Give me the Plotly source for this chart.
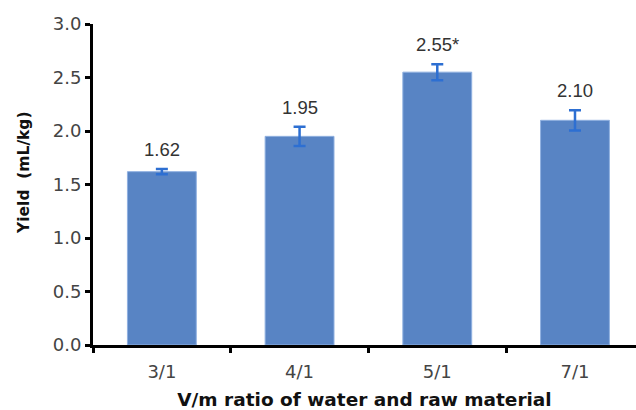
import plotly.graph_objects as go

categories = ["3/1", "4/1", "5/1", "7/1"]
yields = [1.62, 1.95, 2.55, 2.10]
errors = [0.025, 0.09, 0.075, 0.095]
labels = ["1.62", "1.95", "2.55*", "2.10"]

fig = go.Figure()
fig.add_trace(go.Bar(
    x=categories, y=yields, width=0.5,
    marker=dict(color="#5884c4", line=dict(color="#8fb0e0", width=1)),
    error_y=dict(type="data", array=errors, color="#2d6fd2", thickness=2.5, width=6),
    showlegend=False,
))
for c, v, e, t in zip(categories, yields, errors, labels):
    fig.add_annotation(x=c, y=v + e, text=t, showarrow=False, yanchor="bottom", yshift=7,
                       font=dict(family="Liberation Sans, Arial", size=18.5, color="#333333"))

fig.add_annotation(xref="paper", yref="paper", x=-0.127, y=0.536, text="<b>Yield  (mL/kg)</b>",
                   textangle=-90, showarrow=False, xanchor="center", yanchor="middle",
                   font=dict(family="DejaVu Sans", size=15.5, color="#111111"))

fig.update_layout(
    width=636, height=410,
    margin=dict(l=93, r=0, t=24, b=65),
    plot_bgcolor="white", paper_bgcolor="white",
    font=dict(family="DejaVu Sans", size=18, color="#444444"),
    bargap=0.5,
)
fig.update_xaxes(
    range=[-0.5, 3.443],
    showline=True, linecolor="black", linewidth=3,
    ticks="outside", tickson="boundaries", ticklen=5, tickcolor="black", tickwidth=3,
    tickfont=dict(family="DejaVu Sans", size=18, color="#444444"), ticklabelstandoff=8,
    title=dict(text="<b>V/m ratio of water and raw material</b>",
               font=dict(family="DejaVu Sans", size=18.5, color="#111111"), standoff=14),
    automargin=False,
)
fig.update_yaxes(
    range=[0, 3], dtick=0.5, tickformat=".1f",
    showline=True, linecolor="black", linewidth=3, showgrid=False, zeroline=False,
    ticks="outside", ticklen=5, tickcolor="black", tickwidth=3,
    tickfont=dict(family="DejaVu Sans", size=18, color="#444444"),
    automargin=False,
)
fig.write_html("out.html", post_script="document.body.style.margin='0';",
               config={"displayModeBar": False})
